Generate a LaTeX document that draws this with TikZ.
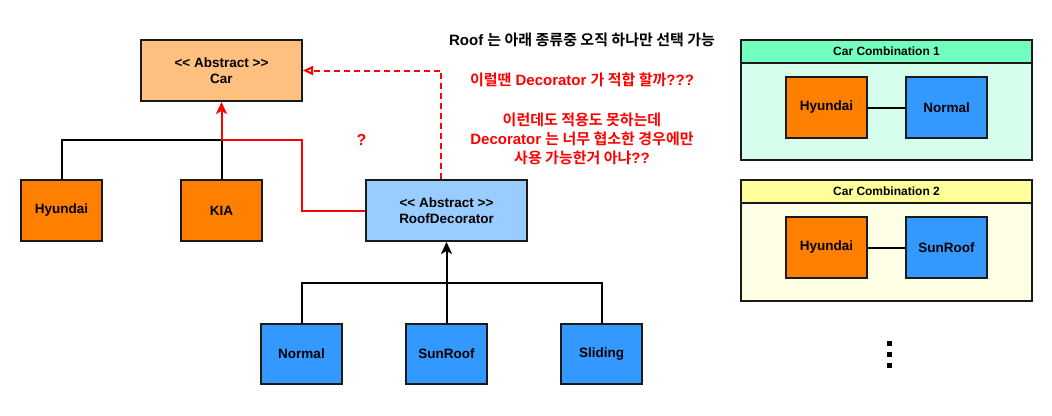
\documentclass[tikz,border=0pt]{standalone}
\usepackage{fontspec}
\setmainfont{Liberation Sans}
\newfontfamily\kr{Noto Sans CJK KR}[UprightFont=* Bold, BoldFont=* Bold]
\usetikzlibrary{arrows.meta}
\definecolor{carfill}{HTML}{FFC080}
\definecolor{orangefill}{HTML}{FF8000}
\definecolor{rdfill}{HTML}{99CCFF}
\definecolor{bluefill}{HTML}{3399FF}
\definecolor{hdrA}{HTML}{73FFC0}
\definecolor{bodyA}{HTML}{D5FFEC}
\definecolor{hdrB}{HTML}{FFFF99}
\definecolor{bodyB}{HTML}{FFFFE5}
\definecolor{boxline}{HTML}{1A1A1A}
\definecolor{redc}{HTML}{FF0000}
\newcommand{\lsh}{\textless\kern0pt\textless}
\newcommand{\rsh}{\textgreater\kern0pt\textgreater}
\begin{document}
\begin{tikzpicture}[x=1pt,y=-1pt,
  box/.style={draw=boxline, line width=2pt, minimum width=81pt, minimum height=61pt,
    font=\bfseries\fontsize{13.5}{16}\selectfont, align=center, inner sep=0pt},
  widebox/.style={box, minimum width=161pt},
  orangebox/.style={box, fill=orangefill},
  bluebox/.style={box, fill=bluefill},
  conn/.style={draw=black, line width=2pt},
  redconn/.style={draw=redc, line width=2pt},
  hdr/.style={draw=boxline, line width=2pt, minimum width=291pt, minimum height=23pt,
    font=\bfseries\fontsize{12}{14}\selectfont, inner sep=0pt},
  body/.style={draw=boxline, line width=2pt, minimum width=291pt, inner sep=0pt},
  redtxt/.style={text=redc, font=\bfseries\fontsize{15}{19}\selectfont, align=center},
  blacktxt/.style={text=black, font=\bfseries\fontsize{15}{19}\selectfont, align=center},
  tipA/.style={-{Stealth[length=12pt,width=11pt,inset=3pt]}}
]
\useasboundingbox (0,0) rectangle (1052,415);

% left hierarchy
\node[widebox, fill=carfill] (car) at (221.5,70.5) {\lsh{} Abstract \rsh\\Car};
\node[orangebox] (hy) at (61.5,210.5) {Hyundai};
\node[orangebox] (kia) at (221.5,210.5) {KIA};
\node[widebox, fill=rdfill] (rd) at (446.5,210.5) {\lsh{} Abstract \rsh\\RoofDecorator};
\node[bluebox, minimum height=60pt] (nor) at (301.5,354) {Normal};
\node[bluebox, minimum height=60pt] (sun) at (446.5,354) {SunRoof};
\node[bluebox, minimum height=60pt] (sli) at (601.5,354) {Sliding};

\coordinate (j1) at (221.5,140);
\coordinate (r1) at (302,140);
\coordinate (j2) at (446.5,283);

\draw[conn] (hy.north) |- (j1) -- (kia.north);
\draw[redconn, tipA] (rd.west) -| (r1) -| (car.south);
\draw[redconn, dash pattern=on 6pt off 4pt, -{Triangle[open,length=10pt,width=9pt]}]
  ([xshift=-5.5pt]rd.north) |- (car.east);
\draw[conn] (nor.north) |- (j2) -| (sli.north);
\draw[conn, tipA] (sun.north) -- (rd.south);

\node[text=redc, font=\bfseries\fontsize{16}{19}\selectfont] (q) at (361.5,140) {?};

% texts
\node[blacktxt] (t1) at (582,40) {Roof {\kr 는 아래 종류중 오직 하나만 선택 가능}};
\node[redtxt] (t2) at (582,80) {{\kr 이럴땐} Decorator {\kr 가 적합 할까}???};
\node[redtxt] (t3) at (582,139) {{\kr 이런데도 적용도 못하는데}\\Decorator {\kr 는 너무 협소한 경우에만}\\{\kr 사용 가능한거 아냐}??};

% combination 1
\node[body, fill=bodyA, minimum height=97pt] (c1b) at (886.5,111.5) {};
\node[hdr, fill=hdrA] (c1h) at (886.5,51.5) {Car Combination 1};
\node[orangebox] (c1hy) at (826.5,107.5) {Hyundai};
\node[bluebox] (c1n) at (946.5,107.5) {Normal};
\draw[conn] (c1hy.east) -- (c1n.west);

% combination 2
\node[body, fill=bodyB, minimum height=98pt] (c2b) at (886.5,252) {};
\node[hdr, fill=hdrB] (c2h) at (886.5,191.5) {Car Combination 2};
\node[orangebox] (c2hy) at (826.5,247.5) {Hyundai};
\node[bluebox] (c2n) at (946.5,247.5) {SunRoof};
\draw[conn] (c2hy.east) -- (c2n.west);

% dots
\foreach \yy in {343,354,365} {
  \fill[black] (886.5,\yy-2.5) rectangle (891.5,\yy+2.5);
}
\end{tikzpicture}
\end{document}
